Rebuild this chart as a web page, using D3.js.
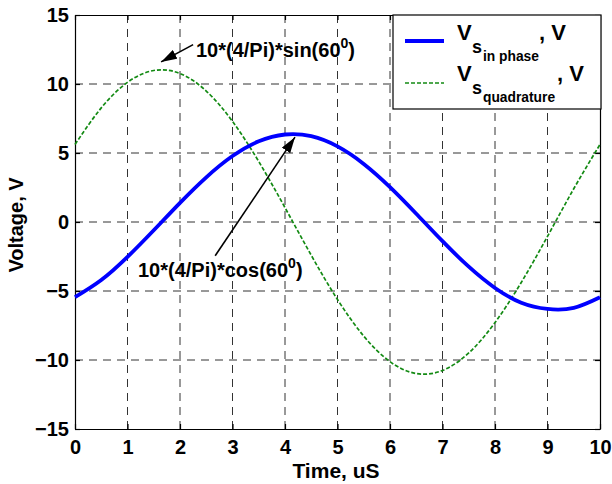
<!DOCTYPE html>
<html><head><meta charset="utf-8">
<script src="https://cdn.jsdelivr.net/npm/d3@7/dist/d3.min.js"></script>
<style>
html,body{margin:0;padding:0;background:#fff;}
text{font-family:"Liberation Sans",Arial,sans-serif;font-weight:bold;fill:#000;}
</style></head>
<body>
<svg id="chart" width="612" height="484"></svg>
<script>
// Data (time in uS, voltage in V)
const time = [0,0.5,1,1.5,2,2.5,3,3.5,4,4.5,5,5.5,6,6.5,7,7.5,8,8.5,9,9.5,10];
const vInPhase = [-5.45,-4.21,-2.53,-0.60,1.39,3.24,4.78,5.85,6.34,6.22,5.48,4.21,2.53,0.60,-1.39,-3.24,-4.78,-5.85,-6.30,-6.22,-5.45];
const vQuadrature = [5.62,8.27,10.12,10.98,10.76,9.49,7.29,4.38,1.04,-2.41,-5.62,-8.27,-10.12,-10.98,-10.76,-9.49,-7.29,-4.38,-1.04,2.41,5.62];
const xTicks = [0,1,2,3,4,5,6,7,8,9,10];
const yTicks = [-15,-10,-5,0,5,10,15];
const seriesNames = ["in phase","quadrature"];
const xLabel = "Time, uS";
const yLabel = "Voltage, V";
const annText = ["10*(4/Pi)*sin(60", "10*(4/Pi)*cos(60"];

const svg = d3.select("#chart");
const L = 75, R = 600, T = 15, B = 429;
const x = d3.scaleLinear().domain([0,10]).range([L,R]);
const y = d3.scaleLinear().domain([-15,15]).range([B,T]);
const FONT = "'Liberation Sans',Arial,sans-serif";

// grid
const g = svg.append("g");
g.selectAll(".gx").data(xTicks.slice(1,-1)).join("line")
  .attr("x1",d=>x(d)).attr("x2",d=>x(d)).attr("y1",B).attr("y2",T)
  .attr("stroke","#333").attr("stroke-width",1).attr("stroke-dasharray","8,6");
g.selectAll(".gy").data(yTicks.slice(1,-1)).join("line")
  .attr("y1",d=>y(d)).attr("y2",d=>y(d)).attr("x1",L).attr("x2",R)
  .attr("stroke","#333").attr("stroke-width",1).attr("stroke-dasharray","8,6");

// axes (box, inward ticks)
const axB = d3.axisBottom(x).tickValues(xTicks).tickSizeInner(-5).tickSizeOuter(0).tickPadding(11);
const axL = d3.axisLeft(y).tickValues(yTicks).tickSizeInner(-5).tickSizeOuter(0).tickPadding(6);
const axT = d3.axisTop(x).tickValues(xTicks).tickSizeInner(-5).tickSizeOuter(0).tickFormat("");
const axR = d3.axisRight(y).tickValues(yTicks).tickSizeInner(-5).tickSizeOuter(0).tickFormat("");
function style(sel){sel.selectAll("path,line").attr("stroke","#000").attr("stroke-width",1.2);
  sel.selectAll("text").style("font-size","20px").style("font-family",FONT).style("font-weight","bold").attr("fill","#000");}
svg.append("g").attr("transform",`translate(0,${B})`).call(axB).call(style);
svg.append("g").attr("transform",`translate(${L},0)`).call(axL).call(style);
svg.append("g").attr("transform",`translate(0,${T})`).call(axT).call(style);
svg.append("g").attr("transform",`translate(${R},0)`).call(axR).call(style);

// lines
const line = d3.line().x((d,i)=>x(time[i])).y(d=>y(d)).curve(d3.curveNatural);
svg.append("path").datum(vQuadrature).attr("d",line).attr("fill","none")
  .attr("stroke","#138a13").attr("stroke-width",1.7).attr("stroke-dasharray","4,2");
svg.append("path").datum(vInPhase).attr("d",line).attr("fill","none")
  .attr("stroke","#0000ff").attr("stroke-width",3.8);

// axis labels
svg.append("text").attr("x",336).attr("y",478).attr("text-anchor","middle").style("font-size","21px").text(xLabel);
svg.append("text").attr("transform",`translate(23,${(T+B)/2+3}) rotate(-90)`).attr("text-anchor","middle").style("font-size","20px").text(yLabel);

// annotations
const defs = svg.append("defs");
defs.append("marker").attr("id","ah").attr("viewBox","0 0 16 10").attr("refX",16).attr("refY",5)
  .attr("markerWidth",16).attr("markerHeight",10).attr("markerUnits","userSpaceOnUse").attr("orient","auto")
  .append("path").attr("d","M0,0 L16,5 L0,10 z").attr("fill","#000");
const arrows = [
  {tail:[2.25,12.85], tip:[1.64,11.6]},
  {tail:[2.67,-2.45], tip:[4.19,6.15]}
];
arrows.forEach(a=>{
  svg.append("line").attr("x1",x(a.tail[0])).attr("y1",y(a.tail[1]))
    .attr("x2",x(a.tip[0])).attr("y2",y(a.tip[1]))
    .attr("stroke","#000").attr("stroke-width",1.6).attr("marker-end","url(#ah)");
});
function annot(tx,ty,s){
  const t = svg.append("text").attr("x",tx).attr("y",ty).style("font-size","20px");
  t.append("tspan").text(s);
  t.append("tspan").attr("dy",-9).style("font-size","14px").text("0");
  t.append("tspan").attr("dy",9).text(")");
}
annot(196, 57, annText[0]);
annot(138, 277, annText[1]);

// legend
const lg = svg.append("g");
lg.append("rect").attr("x",393).attr("y",15).attr("width",208).attr("height",94)
  .attr("fill","#fff").attr("stroke","#000").attr("stroke-width",1.2);
lg.append("line").attr("x1",405).attr("x2",444).attr("y1",41).attr("y2",41).attr("stroke","#0000ff").attr("stroke-width",3.8);
lg.append("line").attr("x1",405).attr("x2",444).attr("y1",83).attr("y2",83).attr("stroke","#138a13").attr("stroke-width",1.7).attr("stroke-dasharray","4,2");
function legText(yb,name,commaX){
  lg.append("text").attr("x",457).attr("y",yb).style("font-size","22px").text("V");
  lg.append("text").attr("x",472).attr("y",yb+13).style("font-size","18px").text("s");
  lg.append("text").attr("x",483).attr("y",yb+21).style("font-size","13.8px").text(name);
  lg.append("text").attr("x",commaX).attr("y",yb).style("font-size","22px").text(", V");
}
legText(40, seriesNames[0], 539);
legText(81, seriesNames[1], 557);
</script>
</body></html>
